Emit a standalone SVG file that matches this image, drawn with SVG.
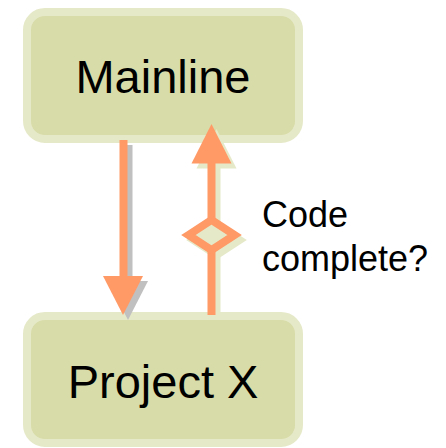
<svg xmlns="http://www.w3.org/2000/svg" width="446" height="448" viewBox="0 0 446 448">
  <style>
    .box { fill: #d8dca8; stroke: #e6e9c8; stroke-width: 8; }
    .label { font-family: "Liberation Sans", Arial, sans-serif; fill: #000; }
    .big { font-size: 47px; text-anchor: middle; }
    .small { font-size: 36px; }
    .flow { fill: #ff9966; }
    .shadow-grey { fill: #c0c0c0; }
    .shadow-green { fill: #e6e9c8; }
  </style>
  <rect width="446" height="448" fill="#ffffff"/>

  <g id="mainline">
    <rect class="box" x="27" y="12" width="272" height="127" rx="18"/>
    <text class="label big" x="163" y="93">Mainline</text>
  </g>

  <g id="project-x">
    <rect class="box" x="27" y="316" width="272" height="127" rx="18"/>
    <text class="label big" x="163" y="398">Project X</text>
  </g>

  <g id="connectors">
    <!-- downward branch: Mainline to Project X -->
    <g transform="translate(5,5)" class="shadow-grey">
      <rect x="119.5" y="140" width="8" height="137"/>
      <polygon points="103,276 143,276 123,315"/>
    </g>
    <g class="flow">
      <rect x="119.5" y="140" width="8" height="137"/>
      <polygon points="103,276 143,276 123,315"/>
    </g>

    <!-- upward merge: Project X to Mainline, gated by a decision -->
    <g transform="translate(5,5)">
      <rect class="shadow-green" x="207.5" y="162" width="8" height="148"/>
      <polygon class="shadow-green" points="191.5,163.5 231.5,163.5 211.5,124"/>
      <polygon points="188.5,235 211.5,220 234.5,235 211.5,250" fill="#e6e9c8" stroke="#e6e9c8" stroke-width="8"/>
    </g>
    <rect class="flow" x="207.5" y="162" width="8" height="153"/>
    <polygon class="flow" points="191.5,163.5 231.5,163.5 211.5,124"/>
    <polygon points="188.5,235 211.5,220 234.5,235 211.5,250" fill="#e6e9c8" stroke="#ff9966" stroke-width="8"/>
  </g>

  <g id="decision-label">
    <text class="label small" x="262" y="227">Code</text>
    <text class="label small" x="262" y="270.5">complete?</text>
  </g>
</svg>
